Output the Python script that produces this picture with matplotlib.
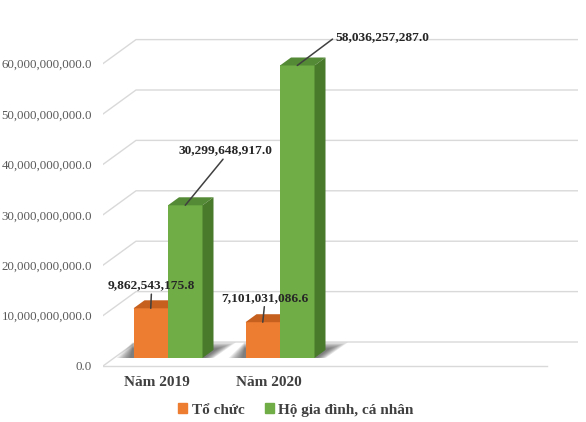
import numpy as np
import matplotlib.pyplot as plt
from matplotlib.patches import Polygon, Patch

# chart data
categories = ['Năm 2019', 'Năm 2020']
series_names = ['Tổ chức', 'Hộ gia đình, cá nhân']
to_chuc = [9862543175.8, 7101031086.6]
ho_gia_dinh = [30299648917.0, 58036257287.0]
y_ticks = [0, 1e10, 2e10, 3e10, 4e10, 5e10, 6e10]

plt.rcParams['font.family'] = ['Liberation Serif', 'DejaVu Serif']

# fake 3D: depth offset of the back wall (in axis units), bar width
DX = 33 / 112
DY = 24 / 50.4 * 1e10
W = 34.5 / 112
d0, d1 = 1 / 3, 2 / 3

c_or = ('#ED7D31', '#C5601F', '#A94F15')
c_gr = ('#70AD47', '#548A35', '#497A2C')

fig = plt.figure(figsize=(5.86, 4.22), dpi=100)
ax = fig.add_axes([103 / 586, 0, 475 / 586, 1])
xl, xr = -54 / 112, 421 / 112
ax.set_xlim(xl, xr)
ax.set_ylim(-56 / 50.4 * 1e10, 366 / 50.4 * 1e10)
for s in ax.spines.values():
    s.set_visible(False)
ax.set_xticks([])
ax.set_yticks(y_ticks)
ax.set_yticklabels([f'{v:,.1f}' for v in y_ticks], color='#595959', fontsize=9.3)
ax.tick_params(axis='y', length=0, pad=7.9)

# gridlines on the back wall
for v in y_ticks:
    ax.plot([xl, xl + DX, xr], [v, v + DY, v + DY], color='#D9D9D9', lw=1, zorder=1)
# floor front edge
ax.plot([xl, 390 / 112], [0, 0], color='#D9D9D9', lw=1, zorder=1)

x = np.arange(len(categories))


def draw_bar(x0, v, cols):
    x1 = x0 + W
    ax.bar(x0 + d0 * DX, v, width=W, bottom=d0 * DY, align='edge', color=cols[0], zorder=4)
    top = [(x0 + d0 * DX, v + d0 * DY), (x1 + d0 * DX, v + d0 * DY),
           (x1 + d1 * DX, v + d1 * DY), (x0 + d1 * DX, v + d1 * DY)]
    side = [(x1 + d0 * DX, d0 * DY), (x1 + d1 * DX, d1 * DY),
            (x1 + d1 * DX, v + d1 * DY), (x1 + d0 * DX, v + d0 * DY)]
    ax.add_patch(Polygon(top, closed=True, color=cols[1], lw=0, zorder=4))
    ax.add_patch(Polygon(side, closed=True, color=cols[2], lw=0, zorder=4))


# soft shadows on the floor (stacked translucent layers)
for i in x:
    for s in np.linspace(1, 0.2, 10):
        left = i - W + d0 * DX - 0.15 * s
        right = i + W + d1 * DX + 0.2 * s
        back_y = d1 * DY + 0.15e10 * s
        shadow = [(left, d0 * DY), (i - W + d0 * DX - 0.01, back_y),
                  (right, back_y), (i + W + d0 * DX + 0.1 * s, d0 * DY)]
        ax.add_patch(Polygon(shadow, closed=True, color='#303030', alpha=0.09, lw=0, zorder=2))

for i in x:
    draw_bar(i - W, to_chuc[i], c_or)
    draw_bar(i, ho_gia_dinh[i], c_gr)

# category labels
for i in x:
    ax.text(i, -17 / 50.4 * 1e10, categories[i], ha='center', va='center',
            fontsize=11, fontweight='bold', color='#404040')

# data labels with leader lines
offsets_or = [(0.7, 16.5), (1.8, 17.5)]
offsets_gr = [(29, 39.5), (27.4, 20.5)]
lbl = dict(fontsize=9.6, fontweight='bold', color='#262626', zorder=6)
arrow = dict(arrowstyle='-', color='#404040', lw=1.1, shrinkA=0, shrinkB=0)
for i in x:
    ax.annotate(f'{to_chuc[i]:,.1f}', xy=(i - W / 2 + d0 * DX, to_chuc[i] + d0 * DY),
                xytext=offsets_or[i], textcoords='offset points', ha='center', va='center',
                arrowprops=arrow, **lbl)
ax.annotate(f'{ho_gia_dinh[0]:,.1f}', xy=(W / 2 + d0 * DX, ho_gia_dinh[0] + d0 * DY),
            xytext=offsets_gr[0], textcoords='offset points', ha='center', va='center',
            arrowprops=dict(arrow, relpos=(0.55, 0.5)), **lbl)
ax.annotate(f'{ho_gia_dinh[1]:,.1f}', xy=(1 + W / 2 + d0 * DX, ho_gia_dinh[1] + d0 * DY),
            xytext=offsets_gr[1], textcoords='offset points', ha='left', va='center',
            arrowprops=dict(arrow, relpos=(0, 0.5)), **lbl)

handles = [Patch(color=c_or[0]), Patch(color=c_gr[0])]
fig.legend(handles, series_names, loc='center', bbox_to_anchor=(296 / 586, 1 - 410 / 422),
           ncol=2, frameon=False, handlelength=0.6, handleheight=0.6, handletextpad=0.3,
           columnspacing=1.3, prop={'size': 11, 'weight': 'bold'}, labelcolor='#404040')

fig.savefig('out.png', dpi=100)
